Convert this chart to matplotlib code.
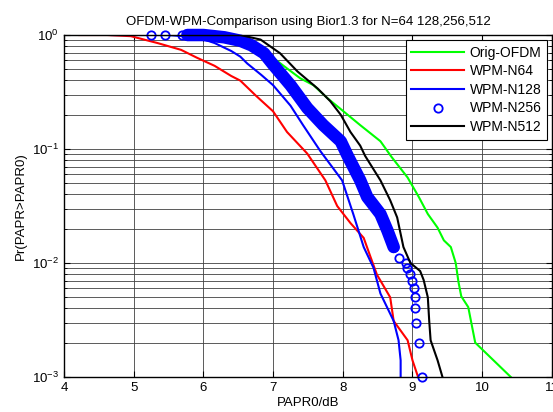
import matplotlib
matplotlib.use("Agg")
import matplotlib.pyplot as plt

plt.rcParams["font.family"] = ["Liberation Sans", "DejaVu Sans"]

# Orig-OFDM
x_orig = [5.40, 5.90, 6.30, 6.70, 7.00, 7.15, 7.39, 7.58, 7.78, 8.01, 8.25, 8.54, 8.70,
          8.93, 9.09, 9.22, 9.36, 9.45, 9.55, 9.62, 9.66, 9.70, 9.80, 9.90, 10.41]
p_orig = [1.0, 1.0, 0.955, 0.794, 0.631, 0.537, 0.417, 0.363, 0.279, 0.214, 0.162, 0.117, 0.0851,
          0.0562, 0.038, 0.0269, 0.0204, 0.0158, 0.0138, 0.010, 0.0068, 0.0051, 0.0041, 0.0020, 0.001]

# WPM-N64
x_n64 = [4.22, 4.62, 4.96, 5.34, 5.68, 5.91, 6.16, 6.40, 6.53, 6.75, 7.00, 7.20, 7.49, 7.75,
         7.92, 8.11, 8.30, 8.40, 8.49, 8.68, 8.73, 8.93, 9.00, 9.08]
p_n64 = [1.0, 1.0, 0.977, 0.851, 0.741, 0.631, 0.537, 0.437, 0.398, 0.295, 0.214, 0.141, 0.0912, 0.0531,
         0.0316, 0.0224, 0.0166, 0.0112, 0.0079, 0.0050, 0.0031, 0.0021, 0.0014, 0.001]

# WPM-N128
x_n128 = [4.68, 5.50, 5.91, 6.16, 6.40, 6.53, 6.63, 6.83, 7.00, 7.25, 7.43, 7.68, 7.99, 8.15,
          8.30, 8.44, 8.54, 8.73, 8.80, 8.83, 8.83]
p_n128 = [1.0, 1.0, 0.955, 0.851, 0.724, 0.646, 0.562, 0.447, 0.363, 0.240, 0.162, 0.0955, 0.0531, 0.0269,
          0.0138, 0.0091, 0.0054, 0.0031, 0.0021, 0.0014, 0.001]

# WPM-N256 (circles): first few, dense band, sparse tail
x_n256_head = [5.25, 5.45, 5.69]
p_n256_head = [1.0, 1.0, 1.0]
x_n256_band = [5.77, 6.00, 6.30, 6.53, 6.69, 6.87, 7.00, 7.25, 7.49, 7.72, 7.97, 8.07, 8.25,
               8.35, 8.54, 8.64, 8.73]
p_n256_band = [1.0, 1.0, 0.955, 0.891, 0.813, 0.692, 0.550, 0.363, 0.229, 0.162, 0.117, 0.0871, 0.0531,
               0.038, 0.0269, 0.0193, 0.0138]
x_n256_tail = [8.80, 8.90, 8.92, 8.97, 9.00, 9.02, 9.03, 9.03, 9.05, 9.10, 9.13]
p_n256_tail = [0.011, 0.010, 0.009, 0.008, 0.007, 0.006, 0.005, 0.004, 0.003, 0.002, 0.001]

# WPM-N512
x_n512 = [5.80, 6.53, 6.82, 7.10, 7.35, 7.64, 7.82, 7.97, 8.11, 8.25, 8.32, 8.54, 8.68, 8.78,
          8.87, 8.97, 9.11, 9.16, 9.22, 9.24, 9.26, 9.36, 9.43]
p_n512 = [1.0, 1.0, 0.912, 0.692, 0.479, 0.339, 0.263, 0.200, 0.141, 0.107, 0.0871, 0.0531, 0.0355, 0.0251,
          0.0138, 0.010, 0.0085, 0.0071, 0.0050, 0.0031, 0.0021, 0.0014, 0.001]

labels = ["Orig-OFDM", "WPM-N64", "WPM-N128", "WPM-N256", "WPM-N512"]

fig = plt.figure(figsize=(5.53, 4.12), dpi=100)
ax = fig.add_axes([0.1157, 0.085, 0.8823, 0.83])

ax.semilogy(x_orig, p_orig, color="#00ff00", lw=1.5, label=labels[0])
ax.semilogy(x_n64, p_n64, color="#ff0000", lw=1.5, label=labels[1])
ax.semilogy(x_n128, p_n128, color="#0000ff", lw=1.5, label=labels[2])

# dense circles merge into a thick band
ax.semilogy(x_n256_band, p_n256_band, color="#0000ff", lw=9, solid_capstyle="round",
            solid_joinstyle="round", clip_on=False)
x_n256 = x_n256_head + x_n256_band + x_n256_tail
p_n256 = p_n256_head + p_n256_band + p_n256_tail
ax.semilogy(x_n256, p_n256, ls="none", marker="o", ms=6, mew=1.3, mfc="none", mec="#0000ff",
            clip_on=False, label=labels[3])

ax.semilogy(x_n512, p_n512, color="black", lw=1.5, label=labels[4])

ax.set_xlim(4, 11)
ax.set_ylim(1e-3, 1)
ax.set_xticks(range(4, 12))

ax.grid(True, which="major", color="#404040", lw=0.6)
ax.grid(True, which="minor", axis="y", color="#404040", lw=0.6)
ax.tick_params(which="both", direction="in", top=True, right=True, labelsize=9.5)
ax.tick_params(which="major", length=4)
ax.tick_params(which="minor", length=2.5)
for s in ax.spines.values():
    s.set_linewidth(1.0)

ax.set_title("OFDM-WPM-Comparison using Bior1.3 for N=64 128,256,512", fontsize=9.5, pad=7)
ax.set_xlabel("PAPR0/dB", fontsize=9.5, labelpad=2)
ax.set_ylabel("Pr(PAPR>PAPR0)", fontsize=9.5, labelpad=4)

leg = ax.legend(loc="upper right", bbox_to_anchor=(0.990, 0.985), borderaxespad=0, fontsize=10,
                fancybox=False, framealpha=1, edgecolor="black", handlelength=3.8,
                handletextpad=0.4, labelspacing=0.33, numpoints=1)
leg.get_frame().set_linewidth(0.8)

fig.savefig("out.png", dpi=100)
